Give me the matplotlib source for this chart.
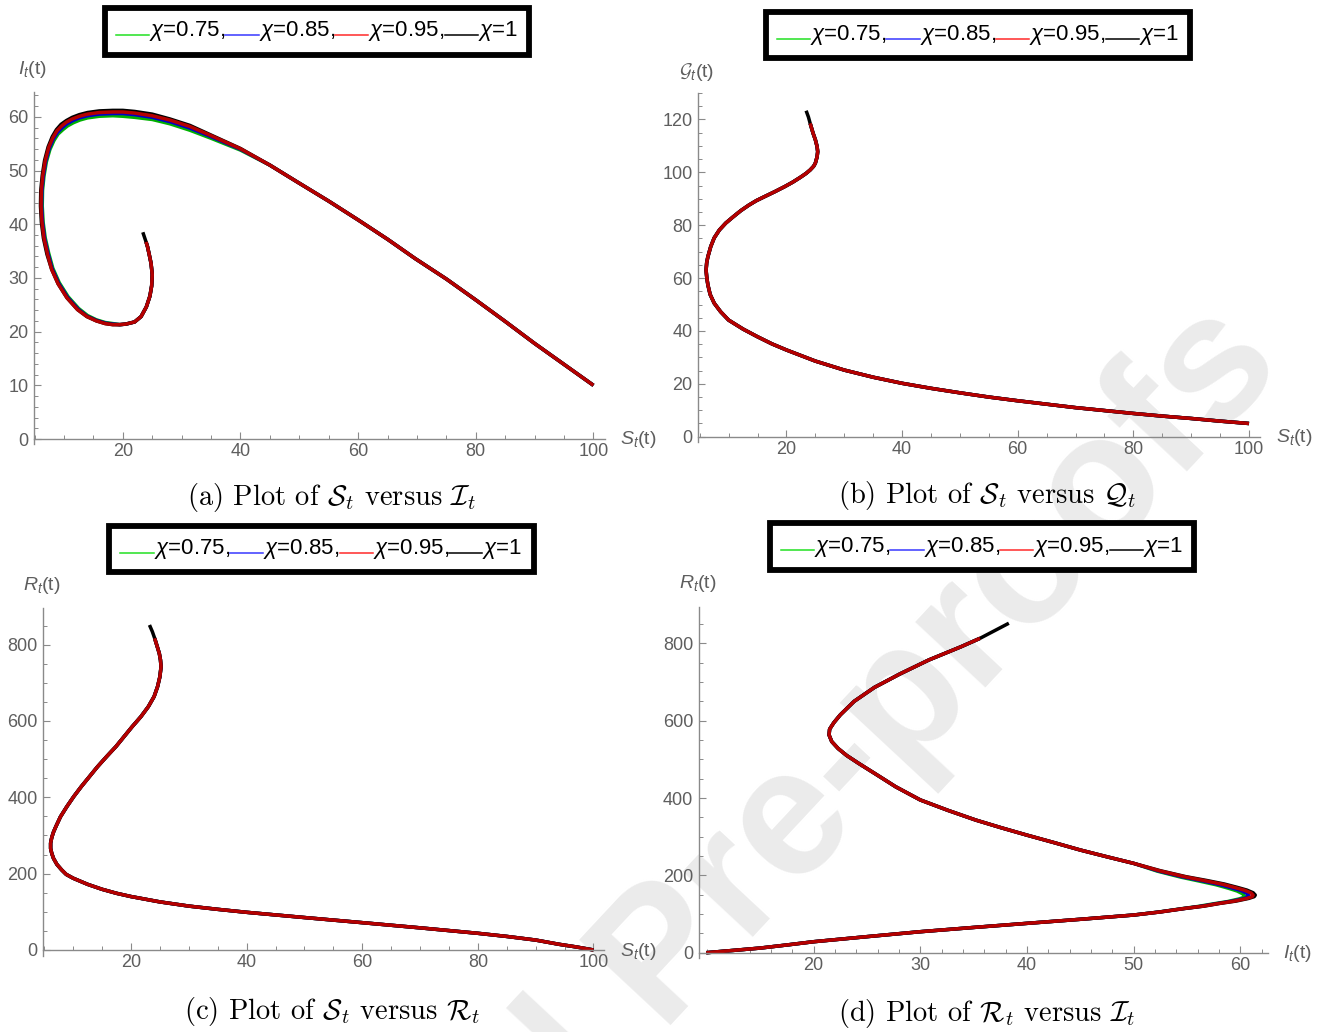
import numpy as np
import matplotlib
matplotlib.use("Agg")
import matplotlib.pyplot as plt
from matplotlib.lines import Line2D
from matplotlib.legend_handler import HandlerLine2D
from matplotlib.ticker import MultipleLocator, FixedLocator

plt.rcParams['font.family'] = ['Liberation Sans', 'DejaVu Sans']
plt.rcParams['mathtext.fontset'] = 'custom'
plt.rcParams['mathtext.rm'] = 'Liberation Sans'
plt.rcParams['mathtext.it'] = 'Liberation Sans:italic'
plt.rcParams['mathtext.cal'] = 'cmsy10'

W, H = 1323, 1032

chi_labels = [r'$\chi$=0.75,', r'$\chi$=0.85,', r'$\chi$=0.95,', r'$\chi$=1']
curve_colors = ['#00b000', '#0000c8', '#b40000', 'black']   # chi = 0.75, 0.85, 0.95, 1
legend_colors = ['#22e022', '#3838ff', '#ff2a2a', 'black']

# ---------- (a) S_t vs I_t ----------
a_head_s = [100, 95, 90, 85, 80, 75, 69.7, 65, 60, 55, 49.6, 45]
a_head_i = [10, 13.9, 17.8, 21.9, 25.9, 29.8, 33.6, 37.2, 40.8, 44.3, 47.9, 51.0]
a_arc_s = {
    1.00: [40, 35, 31.4, 28, 25, 22, 20, 18.3, 16, 14, 12.6, 11.4, 10.4, 9.5, 8.7, 8.0, 7.3, 6.7, 6.3, 6.05, 6.0, 6.15, 6.5, 7.1, 7.9, 9.0, 10.5, 12.3, 13.9, 15.5, 17.0, 18.3],
    0.95: [40, 35, 31.4, 28, 25, 22, 20, 18.3, 16, 14, 12.6, 11.4, 10.4, 9.6, 8.8, 8.1, 7.4, 6.8, 6.4, 6.15, 6.1, 6.25, 6.6, 7.2, 7.9, 9.0, 10.5, 12.3, 13.9, 15.5, 17.0, 18.3],
    0.85: [40, 35, 31.4, 28, 25, 22, 20, 18.3, 16, 14, 12.6, 11.5, 10.5, 9.7, 8.9, 8.2, 7.5, 6.9, 6.5, 6.25, 6.2, 6.35, 6.7, 7.3, 8.0, 9.1, 10.6, 12.4, 13.9, 15.5, 17.0, 18.3],
    0.75: [40, 35, 31.4, 28, 25, 22, 20, 18.3, 16, 14, 12.7, 11.6, 10.6, 9.8, 9.0, 8.3, 7.6, 7.0, 6.6, 6.35, 6.3, 6.45, 6.8, 7.4, 8.1, 9.2, 10.7, 12.5, 14.0, 15.5, 17.0, 18.3],
}
a_arc_i = {
    1.00: [54.1, 56.6, 58.4, 59.6, 60.5, 61.0, 61.2, 61.2, 61.1, 60.8, 60.4, 59.9, 59.3, 58.6, 57.6, 56.3, 54.4, 51.9, 49.1, 46.3, 43.4, 40.4, 37.4, 34.4, 31.6, 28.9, 26.3, 24.1, 22.8, 22.0, 21.5, 21.3],
    0.95: [54.05, 56.5, 58.2, 59.4, 60.2, 60.7, 60.9, 60.9, 60.8, 60.5, 60.1, 59.6, 59.0, 58.3, 57.4, 56.1, 54.3, 51.8, 49.1, 46.3, 43.4, 40.4, 37.4, 34.4, 31.6, 28.9, 26.3, 24.1, 22.8, 22.0, 21.5, 21.3],
    0.85: [53.95, 56.3, 57.9, 59.1, 59.9, 60.4, 60.6, 60.6, 60.5, 60.2, 59.8, 59.3, 58.7, 58.0, 57.1, 55.9, 54.1, 51.7, 49.0, 46.3, 43.4, 40.4, 37.4, 34.5, 31.7, 29.0, 26.4, 24.2, 22.9, 22.1, 21.6, 21.4],
    0.75: [53.8, 56.0, 57.5, 58.7, 59.5, 59.9, 60.1, 60.2, 60.1, 59.8, 59.4, 58.9, 58.3, 57.6, 56.8, 55.6, 53.9, 51.6, 49.0, 46.3, 43.4, 40.4, 37.5, 34.6, 31.8, 29.1, 26.5, 24.3, 23.0, 22.2, 21.7, 21.5],
}
a_tail_s = [19.5, 20.5, 22.0, 23.1, 24.0, 24.6, 24.9, 25.0, 24.8, 24.5, 24.2, 23.95, 23.4]
a_tail_i = [21.3, 21.4, 21.8, 22.8, 24.6, 26.6, 28.5, 30.6, 32.7, 34.3, 35.8, 36.7, 38.5]
a_tail_end = {0.75: 12, 0.85: 12, 0.95: 12, 1.00: 13}

# ---------- (b) S_t vs G_t ----------
b_s = [100, 95, 90, 85, 80, 75, 70, 65, 60, 55, 50, 45, 40, 35, 30, 25, 20, 17.5, 15, 12.5, 10, 8.6, 7.5, 6.8, 6.4, 6.2, 6.1, 6.2, 6.4, 6.9, 7.5, 8.4, 9.5, 10.8, 12.1, 13.5, 14.8, 16.2, 18.0, 19.7, 21.1, 22.4, 23.4, 24.1, 24.7, 25.0, 25.3, 25.4, 25.3, 25.0, 24.6, 24.1, 23.8, 23.4]
b_g = [5.0, 5.9, 6.9, 7.8, 8.8, 9.9, 11.0, 12.3, 13.6, 15.0, 16.6, 18.3, 20.2, 22.5, 25.2, 28.6, 32.8, 35.1, 37.8, 40.7, 44.1, 47.3, 50.5, 53.8, 57.5, 60.5, 63.0, 65.8, 68.0, 71.9, 75.2, 78.2, 80.8, 83.2, 85.5, 87.6, 89.3, 90.8, 92.7, 94.6, 96.3, 98.1, 99.6, 100.9, 102.3, 103.5, 105.9, 107.8, 109.7, 112.3, 114.8, 118.5, 120.9, 123.3]
b_end = {0.75: 52, 0.85: 52, 0.95: 52, 1.00: 54}

# ---------- (c) S_t vs R_t ----------
c_s = [100, 97, 94, 90, 85, 80, 70, 60, 50, 40, 35, 30, 25, 20, 17.5, 15, 12.5, 10, 8.8, 8.0, 7.2, 6.6, 6.3, 6.1, 6.1, 6.3, 6.6, 7.0, 7.8, 8.9, 10.1, 11.4, 12.8, 14.2, 15.8, 17.4, 18.8, 20.2, 21.7, 23.0, 24.0, 24.6, 25.0, 25.2, 25.1, 24.9, 24.5, 24.1, 23.7, 23.2]
c_r = [0, 8, 15, 26, 35.5, 43.7, 58, 71.6, 85, 98.7, 106.5, 115, 126, 140, 148.5, 159, 172, 188, 198, 210, 224, 240, 253, 266, 280, 295, 309, 323, 349, 375.5, 402, 428, 454, 480, 507, 533, 559, 585, 611, 637.5, 664, 690, 716, 742, 760, 777, 797, 816.6, 834, 851.5]
c_end = {0.75: 48, 0.85: 48, 0.95: 48, 1.00: 50}

# ---------- (d) I_t vs R_t ----------
d_head_i = [9.94, 12.5, 15, 17.5, 20, 25, 30, 35, 40, 45, 50]
d_head_r = [0, 6, 12, 20, 28.4, 41.5, 54.3, 65.3, 75.9, 86.4, 97.4]
d_tip_i = {
    1.00: [52.5, 54.9, 56.6, 58.1, 59.6, 60.8, 61.3, 61.4, 61.2, 60.6, 59.7, 58.5, 56.8, 54.9, 52.5],
    0.95: [52.5, 54.8, 56.5, 58.0, 59.4, 60.6, 61.1, 61.2, 61.0, 60.4, 59.5, 58.3, 56.6, 54.8, 52.4],
    0.85: [52.4, 54.7, 56.3, 57.8, 59.1, 60.3, 60.7, 60.8, 60.6, 60.1, 59.2, 58.0, 56.4, 54.6, 52.3],
    0.75: [52.3, 54.5, 56.0, 57.5, 58.8, 59.9, 60.3, 60.4, 60.2, 59.7, 58.9, 57.7, 56.1, 54.4, 52.2],
}
d_tip_r = {
    1.00: [105.5, 114.7, 120.5, 127.6, 133.5, 140.5, 145, 149, 155, 162, 169, 177.6, 187, 196.6, 212],
    0.95: [105.4, 114.6, 120.3, 127.4, 133.3, 140.3, 144.6, 148.5, 154.5, 161.5, 168.5, 177.2, 186.6, 196.4, 212],
    0.85: [105.2, 114.2, 120.0, 127.0, 132.8, 139.8, 144.0, 147.5, 153.5, 160.5, 167.5, 176.5, 186.0, 196.0, 211.5],
    0.75: [105.0, 113.8, 119.5, 126.5, 132.2, 139.2, 143.0, 146.5, 152.5, 159.5, 166.5, 175.8, 185.5, 195.5, 211],
}
d_tail_i = [50, 47.5, 45, 42.5, 40, 37.6, 35.2, 32.6, 30, 27.7, 25.7, 24.2, 23.1, 22.3, 21.7, 21.45, 21.5, 21.9, 22.5, 23.8, 25.7, 28.1, 30.8, 33.8, 35.6, 36.95, 38.3]
d_tail_r = [231, 248, 265.5, 285, 304, 323, 343, 368, 395, 429, 464, 490, 510, 528, 546, 563, 578, 595, 615, 650, 686, 721, 757, 791, 813, 832.5, 852]
d_tail_end = {0.75: 25, 0.85: 25, 0.95: 25, 1.00: 27}

chis = [0.75, 0.85, 0.95, 1.00]
draw_order = [0, 1, 3, 2]   # green, blue, black, red on top

captions = [r'(a) Plot of $\mathcal{S}_t$ versus $\mathcal{I}_t$',
            r'(b) Plot of $\mathcal{S}_t$ versus $\mathcal{Q}_t$',
            r'(c) Plot of $\mathcal{S}_t$ versus $\mathcal{R}_t$',
            r'(d) Plot of $\mathcal{R}_t$ versus $\mathcal{I}_t$']


class BaseLine(HandlerLine2D):
    # legend line sits on the text baseline, like an underscore
    def create_artists(self, legend, orig_handle, xdescent, ydescent, width, height, fontsize, trans):
        arts = super().create_artists(legend, orig_handle, xdescent, ydescent, width, height, fontsize, trans)
        for a in arts:
            a.set_ydata(np.zeros(len(a.get_xdata())) - ydescent + 1)
        return arts


def px_axes(fig, left, right, top, bottom):
    return fig.add_axes([left / W, 1 - bottom / H, (right - left) / W, (bottom - top) / H])


def style(ax, xlim, ylim, xmaj, xmin, ymaj, ymin):
    ax.set_xlim(*xlim)
    ax.set_ylim(*ylim)
    ax.patch.set_alpha(0)
    for s in ['top', 'right']:
        ax.spines[s].set_visible(False)
    ax.spines['bottom'].set_position(('data', 0))
    for s in ['left', 'bottom']:
        ax.spines[s].set_color('#8a8a8a')
        ax.spines[s].set_linewidth(1.0)
    if np.iterable(xmaj):
        ax.xaxis.set_major_locator(FixedLocator(xmaj))
    else:
        ax.xaxis.set_major_locator(MultipleLocator(xmaj))
    ax.xaxis.set_minor_locator(MultipleLocator(xmin))
    ax.yaxis.set_major_locator(MultipleLocator(ymaj))
    ax.yaxis.set_minor_locator(MultipleLocator(ymin))
    ax.tick_params(which='major', direction='in', length=5, width=0.8, color='#8a8a8a',
                   labelsize=13, labelcolor='#5e5e5e', pad=4)
    ax.tick_params(which='minor', direction='in', length=3, width=0.7, color='#8a8a8a')
    ax.tick_params(axis='x', pad=3)


def legend(fig, cx, cy):
    hs = [Line2D([], [], color=c, lw=1.1) for c in legend_colors]
    lg = fig.legend(hs, chi_labels, loc='center', bbox_to_anchor=(cx / W, 1 - cy / H), ncol=4,
                    frameon=True, fancybox=False, edgecolor='black', framealpha=1,
                    handlelength=1.5, handletextpad=0.0, columnspacing=0.0, borderpad=0.5,
                    borderaxespad=0, fontsize=16, handler_map={Line2D: BaseLine()})
    lg.get_frame().set_linewidth(4.2)
    return lg


fig = plt.figure(figsize=(W / 100, H / 100), dpi=100)

# watermark under everything
fig.text(700 / W, 1 - 925 / H, 'Journal Pre-proofs', rotation=47, fontsize=130, color='#ebebeb',
         ha='center', va='center', zorder=-5, fontweight='bold', rotation_mode='anchor')

lw = 2.5
# (a)
ax = px_axes(fig, 34.0, 604.6, 92.1, 444.4)
style(ax, (4.9, 101.9), (-1, 64.6), 20, 5, 10, 2)
for k in draw_order:
    c = chis[k]
    n = a_tail_end[c]
    ax.plot(a_head_s + a_arc_s[c] + a_tail_s[:n], a_head_i + a_arc_i[c] + a_tail_i[:n],
            color=curve_colors[k], lw=lw, solid_capstyle='butt', solid_joinstyle='round')

# (b)
ax = px_axes(fig, 698.3, 1260.0, 93.0, 442.0)
style(ax, (4.75, 101.9), (-2, 130), 20, 5, 20, 5)
for k in draw_order:
    n = b_end[chis[k]]
    ax.plot(b_s[:n], b_g[:n], color=curve_colors[k], lw=lw, solid_capstyle='butt', solid_joinstyle='round')

# (c)
ax = px_axes(fig, 43.1, 603.9, 608.4, 955.7)
style(ax, (4.8, 101.8), (-15, 895), 20, 5, 200, 50)
for k in draw_order:
    n = c_end[chis[k]]
    ax.plot(c_s[:n], c_r[:n], color=curve_colors[k], lw=lw, solid_capstyle='butt', solid_joinstyle='round')

# (d)
ax = px_axes(fig, 698.7, 1268.1, 606.6, 958.5)
style(ax, (9.23, 62.6), (-15, 895), [20, 30, 40, 50, 60], 2, 200, 50)
for k in draw_order:
    c = chis[k]
    n = d_tail_end[c]
    ax.plot(d_head_i + d_tip_i[c] + d_tail_i[:n], d_head_r + d_tip_r[c] + d_tail_r[:n],
            color=curve_colors[k], lw=lw, solid_capstyle='butt', solid_joinstyle='round')

# axis labels
lab = dict(color='#5e5e5e', fontsize=14)
fig.text(32 / W, 1 - 69 / H, r'$I_t$(t)', ha='center', va='center', **lab)
fig.text(620 / W, 1 - 440 / H, r'$S_t$(t)', ha='left', va='center', **lab)
fig.text(697 / W, 1 - 72 / H, r'$\mathcal{G}_t$(t)', ha='center', va='center', **lab)
fig.text(1276 / W, 1 - 437 / H, r'$S_t$(t)', ha='left', va='center', **lab)
fig.text(42 / W, 1 - 586 / H, r'$R_t$(t)', ha='center', va='center', **lab)
fig.text(620 / W, 1 - 951 / H, r'$S_t$(t)', ha='left', va='center', **lab)
fig.text(698 / W, 1 - 583 / H, r'$R_t$(t)', ha='center', va='center', **lab)
fig.text(1283 / W, 1 - 953 / H, r'$I_t$(t)', ha='left', va='center', **lab)

# legends
legend(fig, 317, 31.5)
legend(fig, 978, 35)
legend(fig, 321.5, 549)
legend(fig, 982, 546.5)

# captions
for (cx, cy), txt in zip([(332, 497), (987, 496), (332, 1011), (987, 1013)], captions):
    fig.text(cx / W, 1 - cy / H, txt, ha='center', va='center', fontsize=20.5,
             family='cmr10', math_fontfamily='cm')

fig.savefig('out.png', dpi=100)
